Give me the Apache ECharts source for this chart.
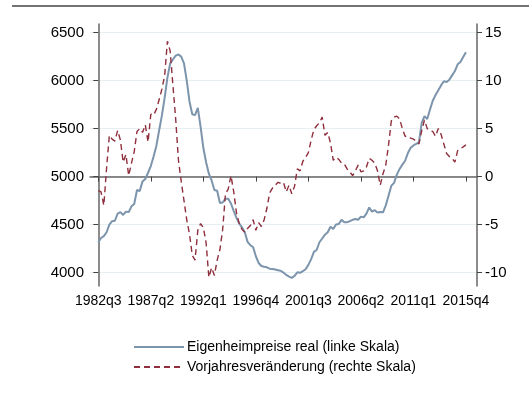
<!DOCTYPE html>
<html>
<head>
<meta charset="utf-8">
<script src="https://cdn.jsdelivr.net/npm/echarts@6/dist/echarts.min.js"></script>
<style>html,body{margin:0;padding:0;background:#fff}#c{width:529px;height:400px}</style>
</head>
<body>
<div id="c"></div>
<script>
// quarter index 0 = 1982q3
const tickIdx = [0, 19, 38, 57, 76, 95, 114, 133];
const tickLabels = ['1982q3','1987q2','1992q1','1996q4','2001q3','2006q2','2011q1','2015q4'];
const leftTicks = [4000, 4500, 5000, 5500, 6000, 6500];
const rightTicks = [-10, -5, 0, 5, 10, 15];
const seriesNames = ['Eigenheimpreise real (linke Skala)', 'Vorjahresveränderung (rechte Skala)'];

const preise = [
4316,4360,4380,4420,4500,4535,4540,4615,4630,4600,
4635,4630,4690,4715,4860,4850,4950,4975,5040,5110,
5210,5320,5480,5635,5820,6030,6180,6220,6260,6272,
6250,6180,6000,5780,5650,5640,5715,5520,5300,5150,
5030,4960,4860,4852,4725,4730,4770,4768,4720,4640,
4570,4510,4470,4420,4320,4285,4265,4170,4100,4068,
4060,4055,4040,4038,4032,4025,4018,4000,3975,3958,
3945,3965,4003,3997,4015,4035,4080,4140,4215,4235,
4316,4355,4395,4420,4478,4455,4500,4507,4549,4525,
4525,4535,4550,4558,4550,4583,4575,4615,4678,4635,
4650,4625,4630,4628,4700,4800,4905,4935,5020,5080,
5125,5165,5245,5300,5325,5340,5358,5560,5630,5600,
5700,5790,5850,5900,5950,5993,5985,6010,6055,6100,
6170,6195,6245,6295
];

const veraenderung = [
-1.46,-1.6,-3.0,0.9,4.3,3.9,3.7,4.8,3.8,1.5,
2.3,0.1,1.4,2.6,4.7,5.0,4.6,5.4,3.6,6.5,
6.4,7.0,8.0,9.1,10.5,14.1,13.1,9.5,6.0,1.7,
-0.5,-2.5,-4.5,-6.0,-8.2,-8.7,-5.6,-4.9,-5.3,-6.9,
-10.5,-9.5,-10.3,-8.7,-7.6,-5.5,-1.8,-1.3,0.1,-1.6,
-3.8,-4.9,-5.5,-5.8,-5.4,-5.1,-4.5,-5.6,-4.8,-5.2,
-4.5,-3.3,-1.7,-1.2,-0.9,-0.6,-0.7,-0.6,-1.6,-0.9,
-1.8,-1.0,0.8,0.6,1.6,2.0,2.5,3.8,4.9,5.3,
5.6,6.2,4.3,4.6,3.5,1.7,2.0,1.8,1.4,1.3,
0.8,0.5,0.1,0.6,1.2,0.5,0.6,1.0,1.9,1.7,
1.4,0.6,-0.9,0.3,1.2,3.3,5.8,6.2,6.3,6.0,
5.0,4.2,4.2,4.0,3.9,3.7,3.4,4.8,5.9,5.0,
4.8,4.7,4.2,5.0,4.4,3.4,2.4,2.1,1.9,1.5,
2.7,2.9,3.1,3.3
];

function qLabel(i) {
  const k = tickIdx.indexOf(Math.round(i));
  return k >= 0 ? tickLabels[k] : '';
}

const font = 'Liberation Sans, Arial, sans-serif';
const chart = echarts.init(document.getElementById('c'), null, {renderer: 'canvas'});
chart.setOption({
  animation: false,
  backgroundColor: '#fff',
  grid: {left: 90, right: 52, top: 24, bottom: 114, containLabel: false},
  graphic: [{
    type: 'line', shape: {x1: 12, y1: 6, x2: 529, y2: 6},
    style: {stroke: '#444', lineWidth: 1.5}
  }],
  legend: {
    orient: 'vertical', left: 128, top: 335, itemWidth: 50, itemHeight: 14, itemGap: 6,
    itemStyle: {opacity: 0},
    textStyle: {fontFamily: font, fontSize: 14, color: '#000', padding: [0, 0, 0, -2]},
    data: seriesNames
  },
  xAxis: {
    type: 'value', min: -3, max: 137,
    axisLine: {show: true, lineStyle: {color: '#666', width: 1.5}},
    axisTick: {show: true, length: 5, lineStyle: {color: '#444'}, customValues: tickIdx},
    axisLabel: {customValues: tickIdx, formatter: v => qLabel(v), fontFamily: font, fontSize: 14, color: '#000', margin: 8},
    splitLine: {show: false}
  },
  yAxis: [{
    type: 'value', min: 3860, max: 6590, position: 'left',
    axisLine: {show: true, lineStyle: {color: '#666', width: 1.5}},
    axisTick: {show: true, length: 5, lineStyle: {color: '#444'}, customValues: leftTicks},
    axisLabel: {customValues: leftTicks, formatter: v => String(v), fontFamily: font, fontSize: 15, color: '#000', margin: 6},
    splitLine: {show: true, lineStyle: {color: '#e6eff1', width: 1}}
  }, {
    type: 'value', min: -11.4, max: 15.9, position: 'right',
    axisLine: {show: true, lineStyle: {color: '#666', width: 1.5}},
    axisTick: {show: true, length: 5, lineStyle: {color: '#444'}, customValues: rightTicks},
    axisLabel: {customValues: rightTicks, formatter: v => String(v), fontFamily: font, fontSize: 15, color: '#000', margin: 8},
    splitLine: {show: false}
  }],
  series: [{
    name: seriesNames[0], type: 'line', yAxisIndex: 0, symbol: 'none',
    data: preise.map((v, i) => [i, v]),
    lineStyle: {color: '#7d95ac', width: 2},
    itemStyle: {color: '#7d95ac'}
  }, {
    name: seriesNames[1], type: 'line', yAxisIndex: 1, symbol: 'none',
    data: veraenderung.map((v, i) => [i, v]),
    lineStyle: {color: '#8f2f3d', width: 1.4, type: [6, 4]},
    itemStyle: {color: '#8f2f3d'}
  }]
});
</script>
</body>
</html>
